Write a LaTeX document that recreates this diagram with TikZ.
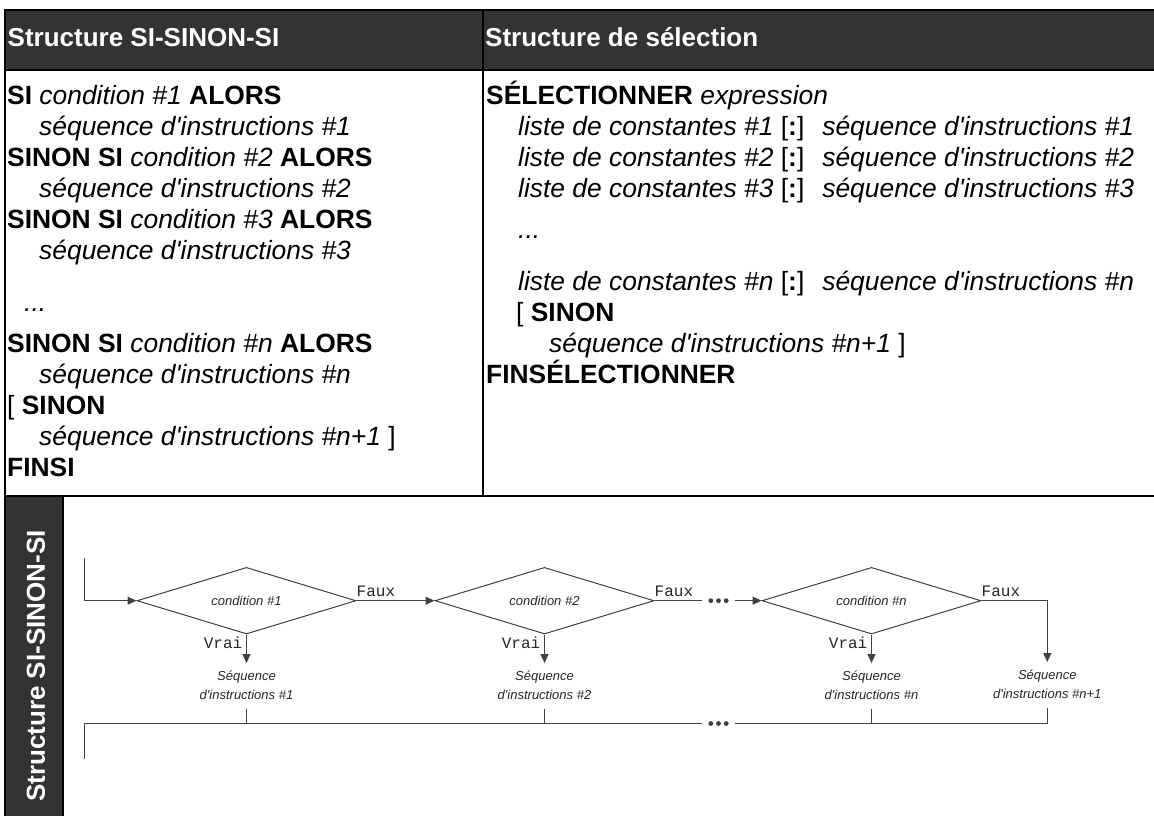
\documentclass[tikz,border=0pt]{standalone}
\usepackage{fontspec}
\setmainfont{Liberation Sans}[Ligatures=TeXOff]
\newfontfamily\monofont{Liberation Mono}[Ligatures=TeXOff]
\usetikzlibrary{shapes.geometric,arrows.meta}
\definecolor{hdrgray}{HTML}{333333}
\definecolor{linegray}{HTML}{404040}
\begin{document}
\begin{tikzpicture}[x=1pt,y=-1pt,
  hdr/.style={anchor=base west, inner sep=0pt, text=white, font=\fontsize{26}{31}\selectfont\bfseries},
  body/.style={anchor=base west, inner sep=0pt, font=\fontsize{26.4}{31}\selectfont},
  cond/.style={diamond, aspect=3.29, draw=linegray, line width=1pt, inner sep=0pt,
    minimum width=219pt, minimum height=66.6pt, text=black!85,
    font=\fontsize{13}{15}\selectfont\itshape},
  seqtxt/.style={anchor=north, align=center, inner xsep=2pt, inner ysep=4pt, text=black!85,
    font=\fontsize{13}{19}\selectfont\itshape},
  branch/.style={inner sep=0pt, text=black!85, font=\fontsize{16}{16}\selectfont\monofont},
  flow/.style={draw=linegray, line width=1pt},
  arr/.style={flow, -{Triangle[length=9pt,width=8pt]}},
  dots/.style={minimum width=32pt, inner sep=0pt}]
  \useasboundingbox (0,0) rectangle (1154,816);
  \clip (0,0) rectangle (1154,816);
  % table frame
  \fill[hdrgray] (5,10) rectangle (1170,70);
  \fill[hdrgray] (5,496) rectangle (63,830);
  \draw[line width=2pt] (1170,10) -- (5,10) -- (5,830);
  \draw[line width=2pt] (5,70) -- (1170,70);
  \draw[line width=2pt] (5,496) -- (1170,496);
  \draw[line width=2pt] (482.7,10) -- (482.7,496);
  \draw[line width=1.5pt] (63,496) -- (63,830);
  \node[hdr] (hSi) at (7.5,47) {Structure SI-SINON-SI};
  \node[hdr] (hSel) at (485,47) {Structure de sélection};
  \node[hdr, anchor=center, rotate=90] (hVert) at (36,666) {Structure SI-SINON-SI};
  % SI-SINON-SI
  \node[body] (l1) at (7,104) {\textbf{SI} \textit{condition \#1} \textbf{ALORS}};
  \node[body] (l2) at (39,135) {\textit{séquence d'instructions \#1}};
  \node[body] (l3) at (7,166) {\textbf{SINON SI} \textit{condition \#2} \textbf{ALORS}};
  \node[body] (l4) at (39,197) {\textit{séquence d'instructions \#2}};
  \node[body] (l5) at (7,228) {\textbf{SINON SI} \textit{condition \#3} \textbf{ALORS}};
  \node[body] (l6) at (39,259) {\textit{séquence d'instructions \#3}};
  \node[body] (l7) at (24,311.7) {\textit{...}};
  \node[body] (l8) at (7,352) {\textbf{SINON SI} \textit{condition \#n} \textbf{ALORS}};
  \node[body] (l9) at (39,383) {\textit{séquence d'instructions \#n}};
  \node[body] (l10) at (7,414) {[ \textbf{SINON}};
  \node[body] (l11) at (39,445) {\textit{séquence d'instructions \#n+1} ]};
  \node[body] (l12) at (7,476) {\textbf{FINSI}};
  % selection
  \node[body] (r1) at (486,104) {\textbf{SÉLECTIONNER} \textit{expression}};
  \node[body] (r2) at (518,135) {\textit{liste de constantes \#1} [\textbf{:}]\hspace{18pt}\textit{séquence d'instructions \#1}};
  \node[body] (r3) at (518,166) {\textit{liste de constantes \#2} [\textbf{:}]\hspace{18pt}\textit{séquence d'instructions \#2}};
  \node[body] (r4) at (518,197) {\textit{liste de constantes \#3} [\textbf{:}]\hspace{18pt}\textit{séquence d'instructions \#3}};
  \node[body] (r5) at (518,238) {\textit{...}};
  \node[body] (r6) at (518,290) {\textit{liste de constantes \#n} [\textbf{:}]\hspace{18pt}\textit{séquence d'instructions \#n}};
  \node[body] (r7) at (516,321) {[ \textbf{SINON}};
  \node[body] (r8) at (549,352) {\textit{séquence d'instructions \#n+1} ]};
  \node[body] (r9) at (486,383) {\textbf{FINSÉLECTIONNER}};
  % flowchart
  \coordinate (entry) at (84,558);
  \coordinate (mergeL) at (84,723.5);
  \coordinate (exitL) at (84,759);
  \node[cond] (d1) at (246.5,600.7) {condition \#1};
  \node[cond] (d2) at (544.5,600.7) {condition \#2};
  \node[cond] (dn) at (871.5,600.7) {condition \#n};
  \node[dots] (dotsTop) at (718.5,600.7) {};
  \node[dots] (dotsBot) at (718.5,723.5) {};
  \foreach \d in {dotsTop,dotsBot}
    \foreach \dx in {-7.7,0,7.7}
      \fill[linegray] ([xshift=\dx pt]\d.center) circle (2.4pt);
  \node[seqtxt] (s1) at ([yshift=-28.5pt]d1.south) {\strut Séquence\\\strut d'instructions \#1};
  \node[seqtxt] (s2) at ([yshift=-28.5pt]d2.south) {\strut Séquence\\\strut d'instructions \#2};
  \node[seqtxt] (sn) at ([yshift=-28.5pt]dn.south) {\strut Séquence\\\strut d'instructions \#n};
  \node[seqtxt] (snn) at (1047.3,662) {\strut Séquence\\\strut d'instructions \#n+1};
  \draw[arr] (entry) |- (d1.west);
  \draw[arr] (d1.east) -- (d2.west);
  \draw[flow] (d2.east) -- (dotsTop.west);
  \draw[arr] (dotsTop.east) -- (dn.west);
  \draw[arr] (dn.east) -| (snn.north);
  \foreach \c/\s in {d1/s1,d2/s2,dn/sn}
    \draw[arr] (\c.south) -- (\s.north);
  \node[branch, anchor=base west] (f1) at ([yshift=4.5pt]d1.east) {Faux};
  \node[branch, anchor=base west] (f2) at ([yshift=4.5pt]d2.east) {Faux};
  \node[branch, anchor=base west] (fn) at ([yshift=4.5pt]dn.east) {Faux};
  \node[branch, anchor=base east] (v1) at ([xshift=-4pt,yshift=-13.7pt]d1.south) {Vrai};
  \node[branch, anchor=base east] (v2) at ([xshift=-4pt,yshift=-13.7pt]d2.south) {Vrai};
  \node[branch, anchor=base east] (vn) at ([xshift=-4pt,yshift=-13.7pt]dn.south) {Vrai};
  \draw[flow] (exitL) -- (mergeL) -- (dotsBot.west);
  \draw[flow] (dotsBot.east) -- (snn.south |- mergeL) -- (snn.south);
  \foreach \s in {s1,s2,sn}
    \draw[flow] (\s.south) -- (\s.south |- mergeL);
\end{tikzpicture}
\end{document}
